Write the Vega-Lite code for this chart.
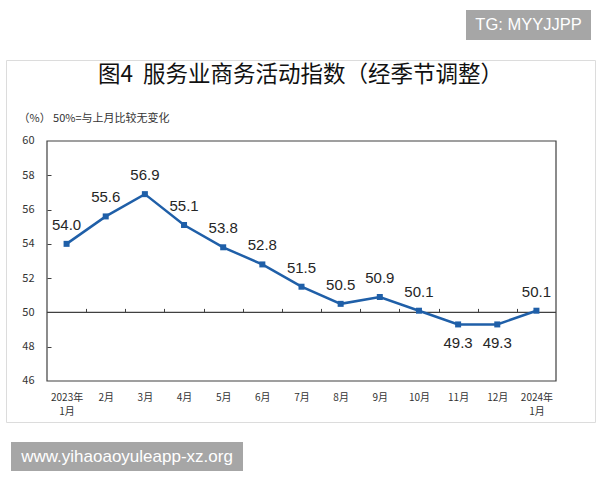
{
  "$schema": "https://vega.github.io/schema/vega-lite/v6.json",
  "background": "white",
  "padding": {"left": 5, "top": 10, "right": 0, "bottom": 0},
  "spacing": 19,
  "config": {"view": {"stroke": null}},
  "vconcat": [
    {
      "spacing": 0,
      "hconcat": [
        {
          "width": 460, "height": 30,
          "data": {"values": [{}]},
          "mark": {"type": "text"},
          "encoding": {"text": {"value": ""}}
        },
        {
          "width": 125, "height": 30,
          "view": {"fill": "#a6a6a6", "stroke": null},
          "data": {"values": [{"tag": "TG: MYYJJPP"}]},
          "mark": {"type": "text", "color": "#ffffff", "fontSize": 16.5, "font": "Liberation Sans", "align": "center", "baseline": "middle"},
          "encoding": {"text": {"field": "tag"}}
        }
      ]
    },
    {
      "width": 589, "height": 362,
      "view": {"stroke": "#dcdcdc", "strokeWidth": 1},
      "title": {
        "text": "图4\u00a0\u00a0服务业商务活动指数（经季节调整）",
        "font": "Noto Sans CJK SC", "fontSize": 22.5, "fontWeight": "normal", "color": "#111111",
        "anchor": "middle", "frame": "group", "offset": -26
      },
      "data": {"values": [
        {"month": "2023年1月", "i": 0, "value": 54.0},
        {"month": "2月", "i": 1, "value": 55.6},
        {"month": "3月", "i": 2, "value": 56.9},
        {"month": "4月", "i": 3, "value": 55.1},
        {"month": "5月", "i": 4, "value": 53.8},
        {"month": "6月", "i": 5, "value": 52.8},
        {"month": "7月", "i": 6, "value": 51.5},
        {"month": "8月", "i": 7, "value": 50.5},
        {"month": "9月", "i": 8, "value": 50.9},
        {"month": "10月", "i": 9, "value": 50.1},
        {"month": "11月", "i": 10, "value": 49.3},
        {"month": "12月", "i": 11, "value": 49.3},
        {"month": "2024年1月", "i": 12, "value": 50.1}
      ]},
      "resolve": {"axis": {"x": "independent", "y": "independent"}},
      "layer": [
        {
          "data": {"values": [{}]},
          "mark": {"type": "rect", "fill": null, "stroke": "#404040", "strokeWidth": 1.2},
          "encoding": {
            "x": {"datum": -0.5, "type": "quantitative", "scale": {"domain": [-1.547, 13.496], "nice": false, "zero": false}, "axis": null},
            "x2": {"datum": 12.5},
            "y": {"datum": 46, "type": "quantitative", "scale": {"domain": [43.608, 64.725], "nice": false, "zero": false}, "axis": {
              "orient": "right", "offset": -548, "domain": false, "labels": false, "grid": false, "title": null,
              "ticks": true, "tickSize": 4, "tickColor": "#404040", "tickWidth": 1,
              "values": [48, 52, 54, 56, 58]
            }},
            "y2": {"datum": 60}
          }
        },
        {
          "data": {"values": [{}]},
          "mark": {"type": "rule", "color": "#404040", "strokeWidth": 1.2},
          "encoding": {
            "x": {"datum": -0.5, "type": "quantitative", "axis": {
              "orient": "top", "offset": -252.4, "domain": false, "labels": false, "grid": false,
              "ticks": true, "tickSize": 4, "tickColor": "#404040", "tickWidth": 1, "title": null,
              "values": [0.5, 1.5, 2.5, 3.5, 4.5, 5.5, 6.5, 7.5, 8.5, 9.5, 10.5, 11.5]
            }},
            "x2": {"datum": 12.5},
            "y": {"datum": 50, "type": "quantitative", "axis": null}
          }
        },
        {
          "mark": {"type": "line", "color": "#1f5fa8", "strokeWidth": 2.5,
                   "point": {"shape": "square", "size": 36, "color": "#1f5fa8", "filled": true}},
          "encoding": {
            "x": {"field": "i", "type": "quantitative", "axis": {
              "orient": "bottom", "offset": -41, "domain": false, "ticks": false, "grid": false, "title": null,
              "values": [0, 1, 2, 3, 4, 5, 6, 7, 8, 9, 10, 11, 12],
              "labelExpr": "datum.value == 0 ? ['2023年', '1月'] : datum.value == 12 ? ['2024年', '1月'] : (datum.value + 1) + '月'",
              "labelFont": "Noto Sans CJK SC", "labelFontSize": 10, "labelColor": "#333333",
              "labelPadding": 11, "labelLineHeight": 14, "labelBaseline": "top",
              "labelOverlap": false, "labelFlush": false
            }},
            "y": {"field": "value", "type": "quantitative", "axis": {
              "orient": "left", "offset": -41, "domain": false, "grid": false, "ticks": false,
              "values": [46, 48, 50, 52, 54, 56, 58, 60],
              "labelFont": "Noto Sans CJK SC", "labelFontSize": 11, "labelColor": "#333333", "labelPadding": 13,
              "labelFlush": false, "labelOverlap": false,
              "title": "（%） 50%=与上月比较无变化",
              "titleFont": "Noto Sans CJK SC", "titleFontSize": 11, "titleFontWeight": "normal", "titleColor": "#333333",
              "titleAngle": 0, "titleAlign": "left", "titleBaseline": "middle", "titleX": -29, "titleY": 58
            }}
          }
        },
        {
          "transform": [{"filter": "datum.value >= 50"}],
          "mark": {"type": "text", "font": "Liberation Sans", "fontSize": 15, "color": "#262626", "baseline": "middle", "dy": -19},
          "encoding": {
            "x": {"field": "i", "type": "quantitative", "axis": null},
            "y": {"field": "value", "type": "quantitative", "axis": null},
            "text": {"field": "value", "type": "quantitative", "format": ".1f"}
          }
        },
        {
          "transform": [{"filter": "datum.value < 50"}],
          "mark": {"type": "text", "font": "Liberation Sans", "fontSize": 15, "color": "#262626", "baseline": "middle", "dy": 19},
          "encoding": {
            "x": {"field": "i", "type": "quantitative", "axis": null},
            "y": {"field": "value", "type": "quantitative", "axis": null},
            "text": {"field": "value", "type": "quantitative", "format": ".1f"}
          }
        }
      ]
    },
    {
      "spacing": 0,
      "hconcat": [
        {
          "width": 5, "height": 29,
          "data": {"values": [{}]},
          "mark": {"type": "text"},
          "encoding": {"text": {"value": ""}}
        },
        {
          "width": 232, "height": 29,
          "view": {"fill": "#a6a6a6", "stroke": null},
          "data": {"values": [{"site": "www.yihaoaoyuleapp-xz.org"}]},
          "mark": {"type": "text", "color": "#ffffff", "fontSize": 17, "font": "Liberation Sans", "align": "center", "baseline": "middle"},
          "encoding": {"text": {"field": "site"}}
        }
      ]
    }
  ]
}
